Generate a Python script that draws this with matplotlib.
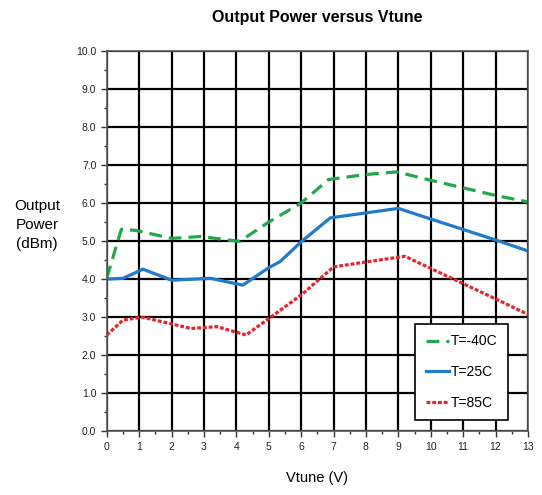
import matplotlib
matplotlib.use("Agg")
import matplotlib.pyplot as plt
from matplotlib import font_manager

# Vtune (V) sample points and output power (dBm) for each temperature
v_m40 = [0, 0.45, 0.9, 2.0, 2.9, 4.1, 5.0, 6.0, 6.85, 8.0, 8.95, 10.0, 11.0, 12.0, 13.0]
p_m40 = [4.03, 5.31, 5.28, 5.07, 5.12, 4.99, 5.5, 6.0, 6.62, 6.75, 6.82, 6.6, 6.4, 6.2, 6.03]

v_25 = [0, 0.5, 1.12, 2.0, 3.2, 4.2, 5.0, 5.35, 6.0, 6.9, 9.0, 10.0, 12.0, 13.0]
p_25 = [4.0, 4.02, 4.26, 3.97, 4.02, 3.84, 4.3, 4.46, 4.98, 5.61, 5.86, 5.58, 5.03, 4.74]

v_85 = [0, 0.5, 1.1, 2.0, 2.6, 3.4, 4.3, 5.0, 6.0, 7.0, 8.0, 9.2, 10.0, 11.0, 12.0, 13.0]
p_85 = [2.53, 2.92, 3.0, 2.82, 2.7, 2.75, 2.53, 2.96, 3.58, 4.32, 4.45, 4.6, 4.28, 3.88, 3.48, 3.07]

labels = ["T=-40C", "T=25C", "T=85C"]
x_ticks = list(range(14))
y_ticks = list(range(11))

names = {f.name for f in font_manager.fontManager.ttflist}
narrow = "Liberation Sans Narrow" if "Liberation Sans Narrow" in names else "Liberation Sans"

fig = plt.figure(figsize=(5.42, 4.95), dpi=100)
ax = fig.add_axes([0.197, 0.129, 0.777, 0.768])

ax.plot(v_m40, p_m40, color="#22a84a", lw=2.3, ls=(0, (4, 2.2)), label=labels[0])
ax.plot(v_25, p_25, color="#1f7bcc", lw=2.3, ls="-", label=labels[1])
ax.plot(v_85, p_85, color="#e8242c", lw=2.3, ls=(0, (1.2, 0.6)), label=labels[2])

ax.set_xlim(0, 13)
ax.set_ylim(0, 10)
ax.set_xticks(x_ticks)
ax.set_yticks(y_ticks)
ax.set_xticks([x + 0.5 for x in x_ticks[:-1]], minor=True)
ax.set_yticks([y + 0.5 for y in y_ticks[:-1]], minor=True)
ax.set_xticklabels([str(v) for v in x_ticks], family=narrow)
ax.set_yticklabels([f"{v:.1f}" for v in y_ticks], family=narrow)

ax.grid(which="major", color="black", lw=1.6)
ax.set_axisbelow(True)
for s in ax.spines.values():
    s.set_color("#555555")
    s.set_linewidth(1.2)
ax.tick_params(which="major", length=4, width=1, color="#333333", labelsize=7.5,
               labelcolor="#222222")
ax.tick_params(which="minor", length=2, width=1, color="#333333")

fig.text(0.586, 0.965, "Output Power versus Vtune", ha="center", va="center",
         fontsize=11.5, fontweight="bold", family=narrow)
fig.text(0.068, 0.545, "Output\nPower\n(dBm)", ha="center", va="center",
         fontsize=11, linespacing=1.45, family="Liberation Sans")
ax.set_xlabel("Vtune (V)", fontsize=10.5, labelpad=14, family="Liberation Sans")

leg = ax.legend(loc="lower right", bbox_to_anchor=(0.952, 0.029), borderaxespad=0,
                fancybox=False, framealpha=1, edgecolor="black", handlelength=1.7,
                handletextpad=0.1, labelspacing=1.2, borderpad=0.75,
                prop={"family": "Liberation Sans", "size": 10})
leg.get_frame().set_linewidth(1.2)

fig.savefig("out.png", dpi=100)
